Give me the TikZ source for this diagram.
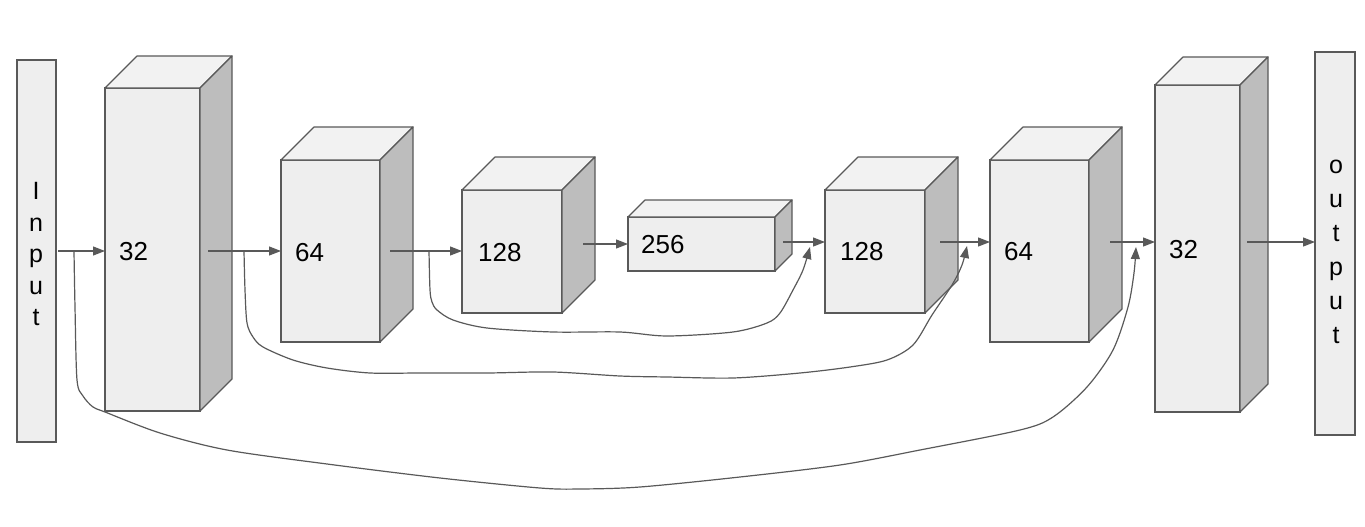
\documentclass[tikz,border=0pt]{standalone}
\usepackage{fontspec}
\setmainfont{Liberation Sans}
\usetikzlibrary{arrows.meta}
\definecolor{lc}{HTML}{595959}
\definecolor{frontc}{HTML}{EEEEEE}
\definecolor{topc}{HTML}{F2F2F2}
\definecolor{sidec}{HTML}{BDBDBD}
\tikzset{
  front/.style={draw=lc, fill=frontc, line width=1.2pt, inner sep=0pt, outer sep=0pt},
  topface/.style={draw=lc, fill=topc, line width=1.2pt, line join=round},
  sideface/.style={draw=lc, fill=sidec, line width=1.2pt, line join=round},
  lbl/.style={inner sep=0pt, font=\fontsize{26}{31}\selectfont, text=black},
  letter/.style={inner sep=0pt, anchor=base, font=\fontsize{25}{30}\selectfont, text=black},
  arr/.style={draw=lc, line width=1.2pt, -{Triangle[length=12pt,width=9pt]}},
  skip/.style={draw=lc, line width=1.2pt, -{Triangle[length=12pt,width=9pt]}},
  iobox/.style={draw=lc, fill=frontc, line width=1.2pt, inner sep=0pt, outer sep=0pt, anchor=north west}
}
\newcommand\mycube[6]{%
  \node[front, minimum width=#4pt, minimum height=#5pt, anchor=north west] (#1) at (#2,#3) {};
  \filldraw[topface] (#1.north west) -- ++(#6,-#6) -- ++(#4,0) -- (#1.north east) -- cycle;
  \filldraw[sideface] (#1.north east) -- ++(#6,-#6) -- ++(0,#5) -- (#1.south east) -- cycle;
}
\begin{document}
\begin{tikzpicture}[x=1pt, y=-1pt]
\useasboundingbox (0,0) rectangle (1365,527);
% input / output
\node[iobox, minimum width=39pt, minimum height=382pt] (inp) at (17,60) {};
\node[iobox, minimum width=40pt, minimum height=383pt] (outp) at (1315,52) {};
\foreach \ch [count=\i] in {I,n,p,u,t}
  \node[letter] (in\i) at (36, 168+31.5*\i) {\ch};
\foreach \ch [count=\i] in {o,u,t,p,u,t}
  \node[letter] (out\i) at (1336, 139+34*\i) {\ch};
% cubes
\mycube{c1}{105}{88}{95}{323}{32}
\mycube{c2}{281}{160}{99}{182}{33}
\mycube{c3}{462}{190}{100}{123}{33}
\mycube{c4}{628}{217}{147}{54}{17}
\mycube{c5}{825}{190}{100}{123}{33}
\mycube{c6}{990}{160}{99}{182}{33}
\mycube{c7}{1155}{85}{85}{327}{28}
% labels
\node[lbl, anchor=base west] (l1) at (119,260) {32};
\node[lbl, anchor=base west] (l2) at (295,261) {64};
\node[lbl, anchor=base west] (l3) at (478,261) {128};
\node[lbl, anchor=base west] (l4) at (641,253) {256};
\node[lbl, anchor=base west] (l5) at (840,260) {128};
\node[lbl, anchor=base west] (l6) at (1004,260) {64};
\node[lbl, anchor=base west] (l7) at (1169,258) {32};
% helper coordinates
\coordinate (lo) at (0,251);
\coordinate (hi) at (0,242);
% forward arrows
\draw[arr] ([xshift=2pt]inp.east |- lo) -- (c1.west |- lo);
\draw[arr] ([xshift=8pt]c1.east |- lo) -- (c2.west |- lo);
\draw[arr] ([xshift=10pt]c2.east |- lo) -- (c3.west |- lo);
\draw[arr] ([xshift=21pt]c3.east |- c4.west) -- (c4.west);
\draw[arr] ([xshift=8pt]c4.east |- hi) -- (c5.west |- hi);
\draw[arr] ([xshift=15pt]c5.east |- hi) -- (c6.west |- hi);
\draw[arr] ([xshift=21pt]c6.east |- hi) -- (c7.west |- hi);
\draw[arr] ([xshift=7pt]c7.east |- hi) -- (outp.west |- hi);
% skip connections
\coordinate (s1) at (74,251);
\coordinate (s2) at (244,251);
\coordinate (s3) at (429,251);
\coordinate (t1) at (1136,247);
\coordinate (t2) at (967,246);
\coordinate (t3) at (810,247);
\draw[skip] plot[smooth, tension=0.5] coordinates {(s1) (75,307) (77,380) (83,396) (93,407) (105,412) (160,433) (227,450) (327,464) (440,478) (540,488) (580,489) (640,487) (740,477) (840,465) (920,450) (1020,430) (1053,417) (1087,387) (1113,350) (1128,307) (1134,273) (t1)};
\draw[skip] plot[smooth, tension=0.5] coordinates {(s2) (245,290) (247,323) (253,337) (263,347) (293,360) (327,368) (370,373) (420,373) (487,373) (553,372) (620,376) (667,377) (733,378) (800,373) (850,367) (887,360) (913,345) (932,315) (952,285) (962,265) (t2)};
\draw[skip] plot[smooth, tension=0.5] coordinates {(s3) (430,290) (432,302) (437,310) (453,320) (487,328) (553,332) (620,332) (667,336) (733,332) (767,323) (780,313) (793,290) (803,270) (t3)};
\end{tikzpicture}
\end{document}
